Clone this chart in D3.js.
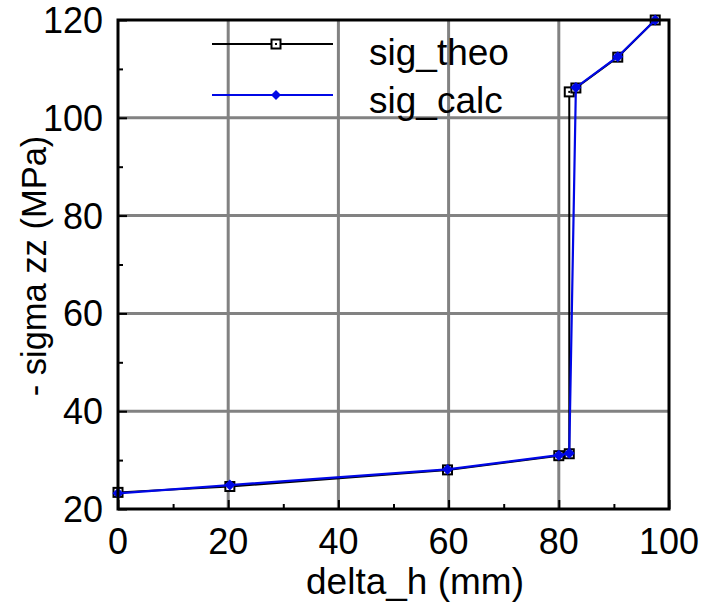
<!DOCTYPE html>
<html>
<head>
<meta charset="utf-8">
<script src="https://cdn.jsdelivr.net/npm/d3@7"></script>
<style>
  body { margin: 0; background: #fff; }
  text { font-family: "Liberation Sans", Arial, sans-serif; }
</style>
</head>
<body>
<script>
// data
var theoX = [0, 20.3, 59.8, 80, 81.9, 81.9, 83.1, 90.7, 97.5]
var theoY = [23.4, 24.6, 28.0, 30.9, 31.3, 105.3, 106.1, 112.4, 120]
var calcX = [0, 20.3, 59.8, 80, 81.9, 83.1, 90.7, 97.5]
var calcY = [23.2, 24.9, 28.1, 31.0, 31.4, 106.2, 112.5, 120]
var xTicks = [0, 20, 40, 60, 80, 100]
var yTicks = [20, 40, 60, 80, 100, 120]
var xMinor = [10, 30, 50, 70, 90]
var yMinor = [30, 50, 70, 90, 110]
var seriesNames = ["sig_theo", "sig_calc"]

var margin = { top: 20, right: 37, bottom: 95, left: 118 }
var W = 706, H = 604
var width = W - margin.left - margin.right
var height = H - margin.top - margin.bottom
var fontSize = 36
var blue = "#0008e6"

var xScale = d3.scaleLinear().domain([0, 100]).range([margin.left, margin.left + width])
var yScale = d3.scaleLinear().domain([20, 120]).range([margin.top + height, margin.top])

var svg = d3.select("body").append("svg")
    .attr("width", W)
    .attr("height", H)

// grid
svg.append("g").selectAll("line")
    .data(xTicks.slice(1, -1))
    .enter().append("line")
    .attr("x1", d => xScale(d)).attr("x2", d => xScale(d))
    .attr("y1", margin.top).attr("y2", margin.top + height)
    .style("stroke", "#828282").style("stroke-width", 3)

svg.append("g").selectAll("line")
    .data(yTicks.slice(1, -1))
    .enter().append("line")
    .attr("y1", d => yScale(d)).attr("y2", d => yScale(d))
    .attr("x1", margin.left).attr("x2", margin.left + width)
    .style("stroke", "#828282").style("stroke-width", 3)

// inward ticks
var xAxis = svg.append("g")
    .attr("transform", "translate(0," + (margin.top + height) + ")")
    .call(d3.axisBottom(xScale).tickValues(xTicks).tickSize(-9).tickFormat(""))
xAxis.append("g").call(d3.axisBottom(xScale).tickValues(xMinor).tickSize(-5).tickFormat(""))

var yAxis = svg.append("g")
    .attr("transform", "translate(" + margin.left + ",0)")
    .call(d3.axisLeft(yScale).tickValues(yTicks).tickSize(-9).tickFormat(""))
yAxis.append("g").call(d3.axisLeft(yScale).tickValues(yMinor).tickSize(-5).tickFormat(""))

svg.selectAll(".domain").remove()
svg.selectAll(".tick line").style("stroke", "#000").style("stroke-width", 2)

// tick labels
svg.append("g").selectAll("text")
    .data(xTicks)
    .enter().append("text")
    .attr("x", d => xScale(d))
    .attr("y", margin.top + height + 45)
    .attr("text-anchor", "middle")
    .style("font-size", fontSize + "px")
    .text(d => d)

svg.append("g").selectAll("text")
    .data(yTicks)
    .enter().append("text")
    .attr("x", margin.left - 15)
    .attr("y", d => yScale(d) + 13)
    .attr("text-anchor", "end")
    .style("font-size", fontSize + "px")
    .text(d => d)

// axis titles
svg.append("text")
    .attr("x", 415)
    .attr("y", 594)
    .attr("text-anchor", "middle")
    .style("font-size", "37px")
    .text("delta_h (mm)")

svg.append("text")
    .attr("transform", "translate(46,266) rotate(-90)")
    .attr("text-anchor", "middle")
    .style("font-size", "34.5px")
    .text("- sigma zz (MPa)")

// series
var theo = theoX.map((x, i) => ({ x: x, y: theoY[i] }))
var calc = calcX.map((x, i) => ({ x: x, y: calcY[i] }))

var line = d3.line().x(d => xScale(d.x)).y(d => yScale(d.y))

svg.append("path").datum(theo)
    .attr("d", line)
    .style("fill", "none").style("stroke", "#000").style("stroke-width", 2)

function square(g, cx, cy) {
    g.append("rect")
        .attr("x", cx - 4.5).attr("y", cy - 4.5)
        .attr("width", 9).attr("height", 9)
        .style("fill", "#fff").style("stroke", "#000").style("stroke-width", 2)
    g.append("rect")
        .attr("x", cx - 1).attr("y", cy - 1)
        .attr("width", 2).attr("height", 2)
        .style("fill", "#000")
}

var sq = svg.append("g")
theo.forEach(d => square(sq, xScale(d.x), yScale(d.y)))

svg.append("path").datum(calc)
    .attr("d", line)
    .style("fill", "none").style("stroke", blue).style("stroke-width", 2.2)

svg.append("g").selectAll("path")
    .data(calc)
    .enter().append("path")
    .attr("transform", d => "translate(" + xScale(d.x) + "," + yScale(d.y) + ") rotate(45)")
    .attr("d", d3.symbol().type(d3.symbolSquare).size(60))
    .style("fill", blue)

// frame
svg.append("rect")
    .attr("x", margin.left).attr("y", margin.top)
    .attr("width", width).attr("height", height)
    .style("fill", "none").style("stroke", "#000").style("stroke-width", 3)

// legend
var leg = svg.append("g")
leg.append("line").attr("x1", 212).attr("x2", 333).attr("y1", 44).attr("y2", 44)
    .style("stroke", "#000").style("stroke-width", 2)
square(leg, 276, 44)
leg.append("line").attr("x1", 212).attr("x2", 333).attr("y1", 95).attr("y2", 95)
    .style("stroke", blue).style("stroke-width", 2.2)
leg.append("path")
    .attr("transform", "translate(276,95) rotate(45)")
    .attr("d", d3.symbol().type(d3.symbolSquare).size(50))
    .style("fill", blue)
leg.selectAll("text")
    .data(seriesNames)
    .enter().append("text")
    .attr("x", 369)
    .attr("y", (d, i) => 65 + i * 48)
    .style("font-size", "37px")
    .text(d => d)
</script>
</body>
</html>
